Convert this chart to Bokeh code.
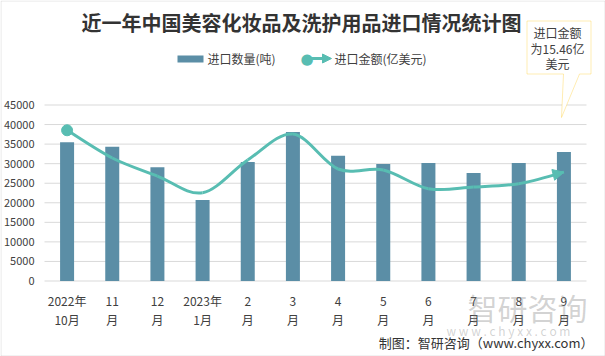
from bokeh.plotting import figure
from bokeh.models import (Range1d, LinearAxis, FixedTicker, Label, BoxAnnotation,
                          PolyAnnotation, Arrow, NormalHead)
from bokeh.embed import file_html
from bokeh.resources import INLINE

# ---------------- data ----------------
tick_line1 = ["2022年", "11", "12", "2023年", "2", "3", "4", "5", "6", "7", "8", "9"]
tick_line2 = ["10月", "月", "月", "1月", "月", "月", "月", "月", "月", "月", "月", "月"]
qty = [35500, 34300, 29100, 20700, 30400, 38100, 32000, 29900, 30200, 27600, 30200, 33000]  # 吨
amount = [21.41, 17.47, 14.91, 12.54, 17.19, 20.88, 15.91, 15.77, 13.11, 13.35, 13.82, 15.46]  # 亿美元
y_ticks = [0, 5000, 10000, 15000, 20000, 25000, 30000, 35000, 40000, 45000]
y_max, y2_max = 45000, 25

BAR = "#5b8ea6"
LINE = "#58bdb2"
TXT = "#404040"
CJK = "Noto Sans CJK SC"

W, H = 605, 356
AREA_L = 44               # left edge of plot area (px)
PX_PER_CAT = 542 / 12     # plot area 44..586 for 12 categories
AREA_TOP = 104            # pixel row of the top (45000) gridline
ZERO_ROW = 280            # pixel row of the 0 gridline

k1 = y_max / (ZERO_ROW - AREA_TOP)
k2 = y2_max / (ZERO_ROW - AREA_TOP)
x_start = -0.5 - AREA_L / PX_PER_CAT
x_end = -0.5 + (W - AREA_L) / PX_PER_CAT
zc = ZERO_ROW + 0.5

p = figure(width=W, height=H, output_backend="svg", toolbar_location=None, title=None,
           x_range=Range1d(x_start, x_end),
           y_range=Range1d(-(H - zc) * k1, zc * k1),
           min_border=0, outline_line_color=None)
p.extra_y_ranges = {"y2": Range1d(-(H - zc) * k2, zc * k2)}

idx = list(range(len(qty)))

# axes drawn at fixed data locations
p.xaxis.ticker = FixedTicker(ticks=idx)
p.xaxis.major_label_overrides = {i: s for i, s in enumerate(tick_line1)}
p.xaxis.fixed_location = 0
ax2 = LinearAxis(ticker=FixedTicker(ticks=idx), fixed_location=0,
                 major_label_overrides={i: s for i, s in enumerate(tick_line2)})
p.add_layout(ax2, "below")
p.yaxis.fixed_location = -0.5
for ax in (p.xaxis[0], ax2, p.yaxis[0]):
    ax.axis_line_color = None
    ax.major_tick_line_color = None
    ax.minor_tick_line_color = None
    ax.major_tick_out = 0
    ax.major_tick_in = 0
    ax.major_label_text_font = CJK
    ax.major_label_text_font_size = "12px"
    ax.major_label_text_color = TXT
p.xaxis[0].major_label_standoff = 11
ax2.major_label_standoff = 30

p.yaxis.ticker = FixedTicker(ticks=y_ticks)
p.yaxis.major_label_text_font_size = "11px"
p.yaxis.major_label_standoff = 10

p.xgrid.grid_line_color = None
p.ygrid.grid_line_color = None
# horizontal gridlines across the category span only
p.segment(x0=[-0.5] * len(y_ticks), x1=[11.5] * len(y_ticks), y0=y_ticks, y1=y_ticks,
          line_color="#d9d9d9", line_width=1)

# bars
p.vbar(x=idx, top=qty, bottom=0, width=0.31, fill_color=BAR, line_color=None)

# smoothed line (Catmull-Rom -> bezier)
n = len(amount)
x0s, y0s, x1s, y1s, c0x, c0y, c1x, c1y = [], [], [], [], [], [], [], []
for i in range(n - 1):
    pm = max(i - 1, 0)
    pp = min(i + 2, n - 1)
    x0s.append(idx[i]); y0s.append(amount[i])
    x1s.append(idx[i + 1]); y1s.append(amount[i + 1])
    c0x.append(idx[i] + (idx[i + 1] - idx[pm]) / 6)
    c0y.append(amount[i] + (amount[i + 1] - amount[pm]) / 6)
    c1x.append(idx[i + 1] - (idx[pp] - idx[i]) / 6)
    c1y.append(amount[i + 1] - (amount[pp] - amount[i]) / 6)
p.bezier(x0=x0s, y0=y0s, x1=x1s, y1=y1s, cx0=c0x, cy0=c0y, cx1=c1x, cy1=c1y,
         line_color=LINE, line_width=3, y_range_name="y2")
p.scatter(x=[idx[0]], y=[amount[0]], size=11, fill_color=LINE, line_color=LINE,
          y_range_name="y2")
p.add_layout(Arrow(end=NormalHead(size=11, fill_color=LINE, line_color=LINE),
                   x_start=c1x[-1], y_start=c1y[-1], x_end=idx[-1], y_end=amount[-1],
                   line_color=LINE, line_width=3, y_range_name="y2"))

# ------------- screen-position helpers (canvas px, top-left origin) -------------
def sx(px):
    return px

def sy(py):
    return H - py

def label(px, py, text, size, color=TXT, align="left", bold=False, font=CJK, alpha=1.0):
    p.add_layout(Label(x=sx(px), y=sy(py), x_units="screen", y_units="screen", text=text,
                       text_font=font, text_font_size=f"{size}px", text_color=color,
                       text_align=align, text_baseline="middle",
                       text_font_style="bold" if bold else "normal", text_alpha=alpha))

# title
label(301, 22, "近一年中国美容化妆品及洗护用品进口情况统计图", 20, color="#333333",
      align="center", bold=True)

# legend
p.add_layout(BoxAnnotation(left=sx(177), right=sx(203), top=sy(55), bottom=sy(62),
                           left_units="screen", right_units="screen", top_units="screen",
                           bottom_units="screen", fill_color=BAR, fill_alpha=1,
                           line_color=None))
label(207, 58, "进口数量(吨)", 12)
p.add_layout(Arrow(end=NormalHead(size=9, fill_color=LINE, line_color=LINE),
                   x_start=sx(304), y_start=sy(58), x_end=sx(331), y_end=sy(58),
                   start_units="screen", end_units="screen",
                   line_color=LINE, line_width=3))
label(306.5, 58, "●", 15, color=LINE, align="center", font="DejaVu Sans")
label(334, 58, "进口金额(亿美元)", 12)

# callout
cx = [526.5, 590.5, 590.5, 579, 561, 563, 526.5]
cy = [20.5, 20.5, 73.5, 73.5, 117, 73.5, 73.5]
p.add_layout(PolyAnnotation(xs=[sx(v) for v in cx], ys=[sy(v) for v in cy],
                            xs_units="screen", ys_units="screen",
                            fill_color="white", fill_alpha=1, line_color="#ffc000",
                            line_width=1))
label(557, 32, "进口金额", 12, align="center")
label(557, 48, "为15.46亿", 12, align="center")
label(557, 63, "美元", 12, align="center")

# watermark
label(527, 306, "智研咨询", 30, color="#808080", align="center", alpha=0.35)
label(508, 330, "w w w . c h y x x . c o m", 12, color="#808080", align="center", alpha=0.35)

# footer
label(593, 342, "制图：智研咨询（www.chyxx.com）", 13, color="#333333", align="right")

# outer border
p.add_layout(PolyAnnotation(xs=[sx(0.5), sx(604.5), sx(604.5), sx(0.5)],
                            ys=[sy(0.5), sy(0.5), sy(355.5), sy(355.5)],
                            xs_units="screen", ys_units="screen",
                            fill_alpha=0, line_color="#a6a6a6", line_width=1))

open("out.html", "w").write(file_html(p, INLINE))
